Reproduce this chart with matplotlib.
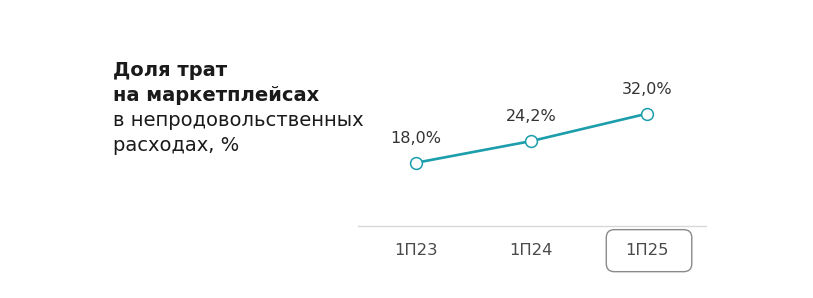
import matplotlib
matplotlib.use("Agg")
import matplotlib.pyplot as plt
from matplotlib.patches import FancyBboxPatch

categories = ["1П23", "1П24", "1П25"]
values = [18.0, 24.2, 32.0]
value_labels = ["18,0%", "24,2%", "32,0%"]
title_bold = ["Доля трат", "на маркетплейсах"]
title_regular = ["в непродовольственных", "расходах, %"]

plt.rcParams['font.family'] = ['DejaVu Sans']

W, H = 813, 298
fig = plt.figure(figsize=(W / 100, H / 100), dpi=100)
fig.patch.set_facecolor('white')

ax = fig.add_axes([358 / W, 1 - 226 / H, (706 - 358) / W, (226 - 61) / H])
x = list(range(len(categories)))
teal = '#1b9dac'
ax.plot(x, values, color=teal, lw=1.9, marker='o', ms=8.5,
        markerfacecolor='white', markeredgecolor=teal, markeredgewidth=1.1,
        solid_capstyle='round', zorder=3)
for xi, v, lab in zip(x, values, value_labels):
    ax.annotate(lab, (xi, v), xytext=(0, 12), textcoords='offset points',
                ha='center', va='bottom', fontsize=11.5, color='#333333')

ax.set_xlim(-0.5, 2.51)
ax.set_ylim(0, 47)
for s in ['top', 'right', 'left']:
    ax.spines[s].set_visible(False)
ax.spines['bottom'].set_color('#d8d8d8')
ax.spines['bottom'].set_linewidth(1.0)
ax.set_yticks([])
ax.set_xticks(x)
ax.set_xticklabels(categories, fontsize=11.8, color='#4a4a4a')
ax.tick_params(axis='x', length=0, pad=12)

# title
fy = [76, 101, 126, 151]
lines = [(t, 'bold') for t in title_bold] + [(t, 'normal') for t in title_regular]
for (t, w), yy in zip(lines, fy):
    fig.text(113 / W, 1 - yy / H, t, fontsize=14, fontweight=w,
             color='#1a1a1a', va='baseline', ha='left')

# highlight box around last tick label
fig.canvas.draw()
renderer = fig.canvas.get_renderer()
lbl = ax.get_xticklabels()[-1]
bb = lbl.get_window_extent(renderer)
padx, pady = 21, 13
box = FancyBboxPatch((bb.x0 - padx + 2, bb.y0 - pady - 1), bb.width + 2 * padx,
                     bb.height + 2 * pady + 1,
                     boxstyle="round,pad=0,rounding_size=8",
                     transform=None, facecolor='none', edgecolor='#8a8a8a',
                     lw=1.0, clip_on=False)
fig.patches.append(box)

fig.savefig("out.png", dpi=100, facecolor='white')
